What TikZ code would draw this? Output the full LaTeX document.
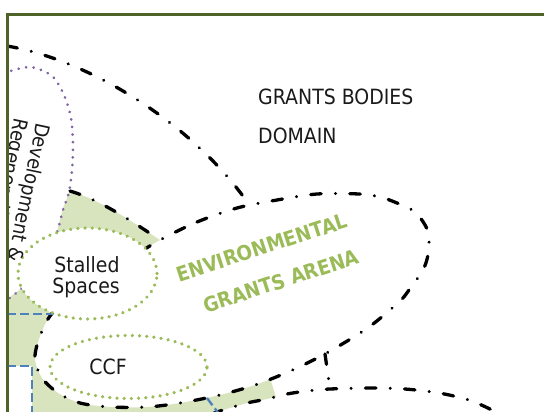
\documentclass[tikz,border=0pt]{standalone}
\usepackage{fontspec}
\usetikzlibrary{shapes.geometric}
\newfontfamily\tahfont[FakeStretch=0.9]{DejaVu Sans}
\definecolor{greenfill}{HTML}{D7E4BD}
\definecolor{dotgreen}{HTML}{9BBB59}
\definecolor{purpledot}{HTML}{8064A2}
\definecolor{bluedash}{HTML}{4F81BD}
\definecolor{framecol}{HTML}{4F6228}
\definecolor{txtcol}{HTML}{1A1A1A}
\newcommand{\lobepath}{plot[smooth cycle] coordinates {(160,240) (197,222) (237,208) (277,200) (317,194) (359,194) (380,197) (397,203) (415,212) (427,229) (429,248) (424,268) (409,290) (399,302) (369,327) (332,350) (297,368) (258,384) (220,395) (180,403) (147,407) (110,407) (80,403) (58,393) (42,378) (35,360) (38,342) (50,316) (80,285) (130,258)}}
\tikzset{
  ddline/.style={draw=black, line width=3.3pt, line cap=round, dash pattern=on 10.5pt off 14.3pt on 0.01pt off 14.3pt},
  gdot/.style={draw=dotgreen, line width=3.6pt, line cap=round, dash pattern=on 0.01pt off 7.2pt},
  pdot/.style={draw=purpledot, line width=3pt, line cap=round, dash pattern=on 0.01pt off 7.6pt},
  bdash/.style={draw=bluedash, line width=2.4pt, dash pattern=on 9pt off 4pt},
  txt/.style={font=\tahfont\fontsize{21}{24}\selectfont, text=txtcol, inner sep=0pt},
  envt/.style={font=\tahfont\bfseries\fontsize{20.5}{24}\selectfont, text=dotgreen, inner sep=0pt},
  framestyle/.style={draw=framecol, line width=2.5pt}
}
\begin{document}
\begin{tikzpicture}[x=1pt,y=-1pt]
\useasboundingbox (0,0) rectangle (544,412);
\begin{scope}
  \clip (7.5,14.5) rectangle (544,412);
  % green fills
  \begin{scope}
    \clip (7,299) -- (22,288) -- (88,273) -- (160,273) -- (270,350) -- (270,378) -- (276,397) -- (267,399) -- (247,403) -- (223,410) -- (214,414) -- (32,414) -- (32,366) -- (7,366) -- cycle
          (70,191) .. controls (100,200) and (130,220) .. (160,240) -- (130,273) -- (57,250) -- (57,232) -- (63,208) -- cycle;
    \fill[greenfill, even odd rule] (0,0) rectangle (544,412) \lobepath;
  \end{scope}
  % purple dotted domain
  \draw[pdot] plot[smooth] coordinates {(4,73) (30,67) (52,76) (64,95) (71,118) (73,145) (72,170) (69,192) (63,210) (57,232) (45,262) (22,288) (4,302)};
  % dash-dot boundaries
  \draw[ddline] (7,46) .. controls (90,60) and (195,125) .. (250,206);
  \draw[ddline] \lobepath;
  \draw[ddline] (70,191) .. controls (100,200) and (130,220) .. (160,240);
  \draw[ddline] plot[smooth] coordinates {(212,414) (223,410) (247,403) (267,399) (287,394) (307,391) (330,389) (372,388) (405,389) (439,393) (469,400) (492,410) (500,415)};
  \coordinate (c1) at (325,354);
  \coordinate (c2) at (330,389);
  \draw[ddline] (c1) -- (c2);
  % blue dashed
  \coordinate (b1) at (7,314);
  \coordinate (b2) at (53,314);
  \coordinate (b3) at (7,366);
  \coordinate (b4) at (32,366);
  \coordinate (b5) at (32,414);
  \coordinate (b6) at (207,398);
  \coordinate (b7) at (219,414);
  \draw[bdash] (b1) -- (b2);
  \draw[bdash] (b3) -- (b4) -- (b5);
  \draw[bdash] (b6) -- (b7);
  % ellipses
  \node[ellipse, gdot, fill=white, minimum width=139pt, minimum height=91pt, inner sep=0pt] (stalled) at (87.5,273.5) {};
  \node[ellipse, gdot, fill=white, minimum width=157pt, minimum height=63pt, inner sep=0pt] (ccf) at (128.5,367) {};
  % texts
  \node[txt, anchor=base west] (gb1) at (258,105) {GRANTS BODIES};
  \node[txt, anchor=base west] (gb2) at (258,143) {DOMAIN};
  \node[txt, anchor=base] (st1) at (87,272) {Stalled};
  \node[txt, anchor=base] (st2) at (86,293) {Spaces};
  \node[txt, anchor=base] (ccft) at (108,374) {CCF};
  \node[envt, rotate=18] (env1) at (262,247.5) {ENVIRONMENTAL};
  \node[envt, rotate=18] (env2) at (281,281) {GRANTS ARENA};
  \node[txt, font=\tahfont\fontsize{20}{24}\selectfont, rotate=-102, anchor=base west] (dev1) at (37,122) {Development \&};
  \node[txt, font=\tahfont\fontsize{20}{24}\selectfont, rotate=-102, anchor=base west] (dev2) at (15,117.5) {Regeneration};
\end{scope}
\draw[framestyle] (7.5,414) -- (7.5,14.5) -- (546,14.5);
\end{tikzpicture}
\end{document}
